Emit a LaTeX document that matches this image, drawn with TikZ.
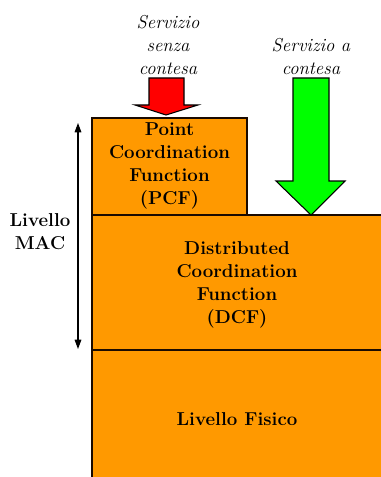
\documentclass[tikz,border=0pt]{standalone}
\usepackage{tikz}
\usetikzlibrary{positioning,arrows.meta}

\definecolor{layerorange}{HTML}{FF9900}
\definecolor{pcfred}{HTML}{FF0000}
\definecolor{dcfgreen}{HTML}{00FF00}
\definecolor{edgebrown}{HTML}{1A0A00}

\begin{document}
\begin{tikzpicture}[x=0.75pt, y=-0.75pt,
  layer/.style={fill=layerorange, draw=edgebrown, line width=1pt},
  boxtext/.style={align=center, font=\fontsize{14}{17.25}\selectfont\bfseries},
  service/.style={align=center, font=\fontsize{14}{17.25}\selectfont\itshape},
  arrowshape/.style={draw=black, line width=0.8pt, line join=miter}]
  \useasboundingbox (0,0) rectangle (380,477);
  % layers
  \draw[layer] (92,118) rectangle (247,215);
  \draw[layer] (92,215) rectangle (384,350);
  \draw[layer] (92,350) rectangle (384,481);
  \draw[edgebrown, line width=2pt] (92,215) -- (384,215);
  \draw[edgebrown, line width=2pt] (92,350) -- (384,350);
  \node[boxtext] (pcf) at (169.5,166) {Point\\Coordination\\Function\\(PCF)};
  \node[boxtext] (dcf) at (237,285) {Distributed\\Coordination\\Function\\(DCF)};
  \node[boxtext] (fisico) at (237,419) {Livello Fisico};
  % services
  \filldraw[arrowshape, fill=pcfred]
    (149,78) -- (184,78) -- (184,105) -- (198,105) -- (166,115)
    -- (135,105) -- (149,105) -- cycle;
  \filldraw[arrowshape, fill=dcfgreen]
    (293,78) -- (329,78) -- (329,181) -- (345,181) -- (311,215)
    -- (276,181) -- (293,181) -- cycle;
  \node[service] (senza) at (168,45) {Servizio\\senza\\contesa};
  \node[service] (contesa) at (311,56.5) {Servizio a\\contesa};
  % livello MAC
  \coordinate (mactop) at (78,123);
  \coordinate (macbot) at (78,349);
  \draw[{Triangle[length=7pt,width=5pt]}-{Triangle[length=7pt,width=5pt]}, line width=0.8pt]
    (mactop) -- (macbot);
  \node[boxtext] (mac) at (40,231.5) {Livello\\MAC};
\end{tikzpicture}
\end{document}
